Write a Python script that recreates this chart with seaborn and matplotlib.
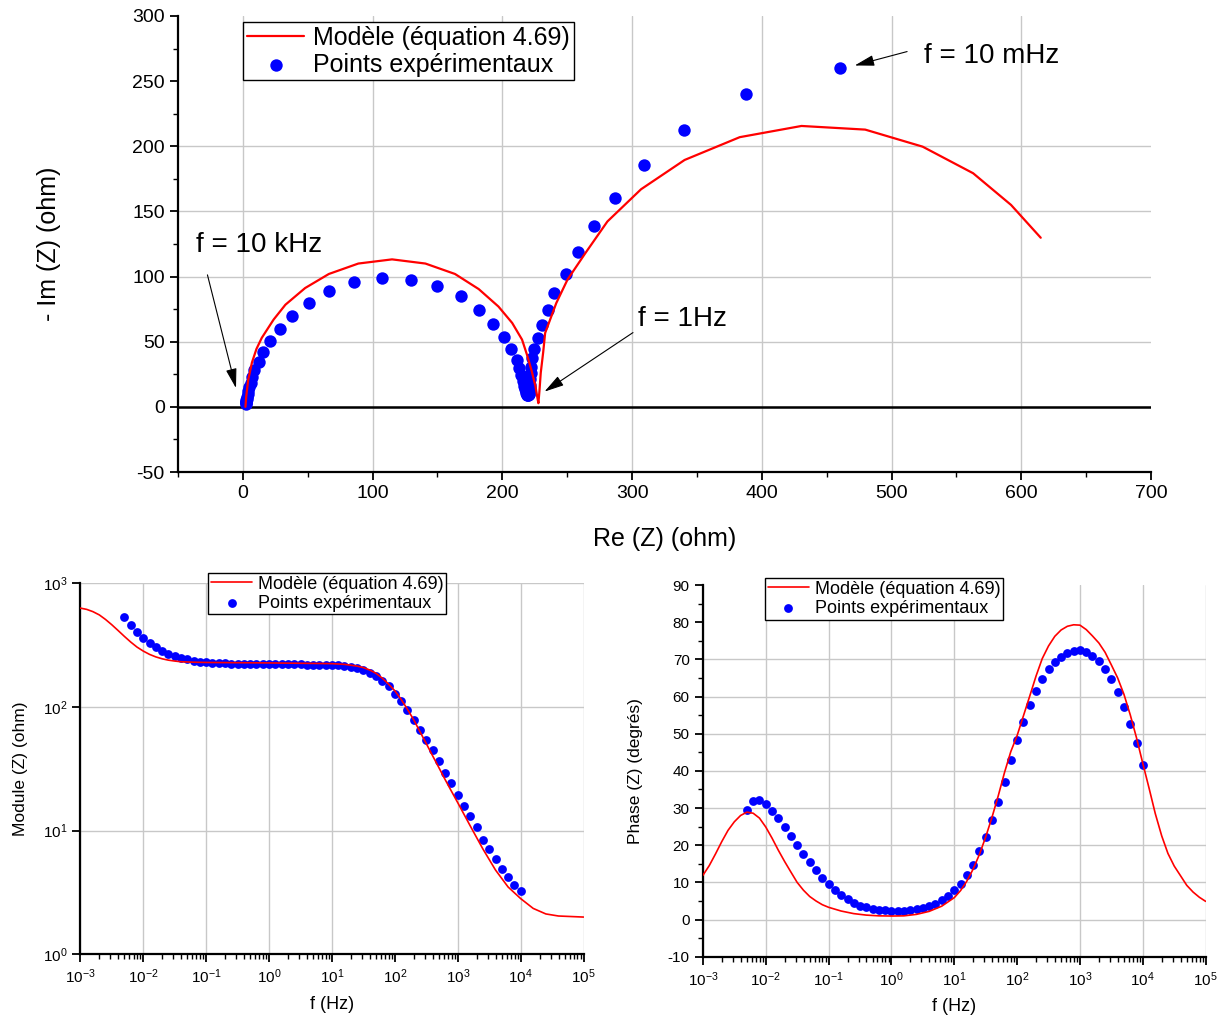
import matplotlib
matplotlib.use("Agg")
import matplotlib.pyplot as plt
import matplotlib.ticker as mticker
import seaborn as sns

sns.set_style("ticks")
plt.rcParams['font.family'] = ['Liberation Sans', 'DejaVu Sans']
plt.rcParams['mathtext.default'] = 'regular'
plt.rcParams['axes.unicode_minus'] = False
plt.rcParams['text.color'] = 'black'
plt.rcParams['axes.labelcolor'] = 'black'
plt.rcParams['xtick.color'] = 'black'
plt.rcParams['ytick.color'] = 'black'

LBL_MODEL = "Modèle (équation 4.69)"
LBL_EXP = "Points expérimentaux"

# ---- Nyquist : points experimentaux (f croissante, 5 mHz -> 10 kHz)
re_exp = [460.5, 387.6, 339.9, 308.9, 286.9, 270.4, 258.0, 248.8, 240.2, 235.0,
          230.6, 227.2, 224.4, 222.7, 222.2, 221.9, 221.7, 221.5, 221.3, 221.0,
          220.8, 220.5, 220.2, 219.9, 219.6, 219.3, 219.0, 218.6, 218.1, 217.5,
          216.8, 215.8, 214.5, 213.0, 211.0, 207.0, 201.0, 193.0, 181.8, 167.8,
          149.8, 129.8, 107.0, 85.7, 66.6, 50.8, 38.0, 28.3, 21.3, 15.5,
          12.2, 8.5, 7.4, 5.9, 4.9, 4.3, 3.7, 3.3, 3.05, 2.8,
          2.7, 2.6, 2.5, 2.4]
im_exp = [260.0, 240.4, 212.5, 185.7, 160.4, 138.7, 119.0, 102.2, 87.4, 74.1,
          63.1, 52.9, 44.4, 37.3, 30.8, 25.7, 21.3, 17.0, 14.3, 12.7,
          11.2, 10.0, 9.6, 9.2, 8.8, 8.8, 9.6, 10.7, 11.8, 14.0,
          15.9, 19.6, 24.2, 29.9, 36.3, 44.7, 53.4, 63.9, 74.6, 84.8,
          92.7, 97.6, 99.1, 95.5, 88.6, 80.0, 69.5, 59.5, 50.3, 42.0,
          34.5, 28.6, 23.1, 18.6, 15.1, 12.4, 9.9, 7.8, 6.4, 5.1,
          4.1, 3.4, 2.7, 2.2]

# ---- Nyquist : modele (de la basse frequence vers la haute frequence)
re_mod = [615.0, 592.1, 562.9, 524.0, 479.7, 430.6, 383.0, 340.5, 306.9, 281.0,
          264.0, 250.2, 241.6, 233.0, 231.5, 229.6, 228.6, 227.8, 227.2, 225.5,
          222.5, 219.0, 215.2, 207.6, 197.0, 181.8, 163.5, 140.7, 115.0, 89.0,
          66.3, 48.0, 32.8, 23.7, 14.6, 10.5, 7.0, 4.1, 2.6, 2.0]
im_mod = [129.8, 155.0, 179.3, 199.7, 212.8, 215.6, 207.0, 189.5, 167.0, 142.3,
          118.0, 97.6, 79.7, 56.7, 42.0, 26.0, 12.0, 2.8, 6.0, 16.0,
          28.0, 40.0, 51.6, 64.4, 77.0, 90.4, 102.0, 110.0, 113.2, 110.0,
          102.0, 91.2, 78.4, 67.0, 53.0, 44.5, 34.0, 20.7, 8.0, 0.0]

# ---- Bode : frequences des points experimentaux (Hz)
f_exp = [5.01e-3, 6.31e-3, 7.94e-3,
         1.00e-2, 1.26e-2, 1.58e-2, 2.00e-2, 2.51e-2, 3.16e-2, 3.98e-2, 5.01e-2, 6.31e-2, 7.94e-2,
         1.00e-1, 1.26e-1, 1.58e-1, 2.00e-1, 2.51e-1, 3.16e-1, 3.98e-1, 5.01e-1, 6.31e-1, 7.94e-1,
         1.00e0, 1.26e0, 1.58e0, 2.00e0, 2.51e0, 3.16e0, 3.98e0, 5.01e0, 6.31e0, 7.94e0,
         1.00e1, 1.26e1, 1.58e1, 2.00e1, 2.51e1, 3.16e1, 3.98e1, 5.01e1, 6.31e1, 7.94e1,
         1.00e2, 1.26e2, 1.58e2, 2.00e2, 2.51e2, 3.16e2, 3.98e2, 5.01e2, 6.31e2, 7.94e2,
         1.00e3, 1.26e3, 1.58e3, 2.00e3, 2.51e3, 3.16e3, 3.98e3, 5.01e3, 6.31e3, 7.94e3,
         1.00e4]
mod_exp = [533, 457, 402,
           361, 329, 304, 285, 270, 257, 249, 242, 236, 232,
           229, 227, 226, 225, 224, 224, 223, 223, 222, 222,
           222, 222, 222, 221, 221, 221, 220, 220, 219, 219,
           218, 217, 215, 212, 207, 200, 189, 177, 162, 147,
           128, 111, 94.0, 79.0, 65.6, 54.5, 44.7, 36.4, 29.4, 24.3,
           19.5, 15.9, 13.1, 10.6, 8.45, 7.11, 5.86, 4.93, 4.22, 3.66,
           3.25]
phase_exp = [29.6, 31.8, 32.1,
             31.2, 29.3, 27.2, 24.9, 22.4, 20.0, 17.7, 15.4, 13.2, 11.3,
             9.5, 7.9, 6.6, 5.5, 4.4, 3.7, 3.3, 2.9, 2.6, 2.5,
             2.4, 2.3, 2.3, 2.5, 2.8, 3.1, 3.7, 4.2, 5.2, 6.4,
             7.9, 9.7, 12.1, 14.7, 18.4, 22.2, 26.7, 31.7, 37.1, 42.8,
             48.3, 53.1, 57.6, 61.4, 64.7, 67.3, 69.2, 70.7, 71.8, 72.3,
             72.4, 72.0, 70.8, 69.5, 67.3, 64.6, 61.2, 57.2, 52.6, 47.4,
             41.7]

# ---- Bode : modele, module
f_mod_m = [1.00e-3, 1.26e-3, 1.58e-3, 2.00e-3, 2.51e-3, 3.16e-3, 3.98e-3, 5.01e-3, 6.31e-3, 7.94e-3,
           1.00e-2, 1.26e-2, 1.58e-2, 2.00e-2, 2.51e-2, 3.16e-2, 3.98e-2, 6.31e-2,
           1.00e-1, 1.00e0, 1.00e1, 1.58e1, 2.51e1, 3.16e1, 3.98e1, 5.01e1, 6.31e1, 7.94e1,
           1.00e2, 1.26e2, 1.58e2, 2.00e2, 2.51e2, 3.16e2, 3.98e2, 5.01e2, 6.31e2, 7.94e2,
           1.00e3, 1.58e3, 2.51e3, 3.98e3, 6.31e3, 1.00e4, 1.58e4, 2.51e4, 3.98e4, 1.00e5]
mod_mod = [630, 615, 590, 555, 510, 462, 415, 372, 335, 305,
           283, 266, 254, 245, 239, 235, 232, 230,
           229, 227, 224, 221, 214, 208, 199, 187, 171, 153,
           135, 115, 96, 78.5, 63, 50.5, 40.3, 32.3, 25.8, 20.8,
           16.8, 10.9, 7.1, 4.8, 3.5, 2.82, 2.35, 2.12, 2.04, 2.0]

# ---- Bode : modele, phase
f_mod_p = [1.00e-3, 1.26e-3, 1.58e-3, 2.00e-3, 2.51e-3, 3.16e-3, 3.98e-3, 5.01e-3, 6.31e-3, 7.94e-3,
           1.00e-2, 1.26e-2, 1.58e-2, 2.00e-2, 2.51e-2, 3.16e-2, 3.98e-2, 5.01e-2, 6.31e-2, 7.94e-2,
           1.00e-1, 1.58e-1, 2.51e-1, 3.98e-1, 6.31e-1, 1.00e0, 1.58e0, 2.51e0, 3.98e0, 6.31e0,
           1.00e1, 1.26e1, 1.58e1, 2.00e1, 2.51e1, 3.16e1, 3.98e1, 5.01e1, 6.31e1, 7.94e1,
           1.00e2, 1.26e2, 1.58e2, 2.00e2, 2.51e2, 3.16e2, 3.98e2, 5.01e2, 6.31e2, 7.94e2,
           1.00e3, 1.26e3, 1.58e3, 2.00e3, 2.51e3, 3.16e3, 3.98e3, 5.01e3, 6.31e3, 7.94e3,
           1.00e4, 1.26e4, 1.58e4, 2.00e4, 2.51e4, 3.16e4, 3.98e4, 5.01e4, 6.31e4, 7.94e4,
           1.00e5]
phase_mod = [11.9, 14.5, 17.6, 21.0, 24.0, 26.3, 28.0, 28.9, 28.6, 27.3,
             24.9, 21.9, 18.7, 15.6, 12.8, 10.0, 7.9, 6.2, 5.0, 4.0,
             3.3, 2.3, 1.6, 1.2, 1.0, 0.95, 1.0, 1.4, 2.2, 3.6,
             5.9, 7.8, 10.3, 13.6, 17.5, 22.2, 27.5, 33.3, 39.6, 45.2,
             49.5, 54.8, 60.0, 65.5, 70.2, 73.6, 76.2, 77.9, 78.9, 79.3,
             79.2, 78.0, 76.3, 74.4, 71.9, 68.5, 65.0, 60.6, 55.1, 48.9,
             42.0, 35.3, 28.5, 22.5, 17.8, 14.4, 11.8, 9.2, 7.4, 6.0,
             4.9]

GRID = '#c8c8c8'


def style_axes(ax, tick_size):
    for s in ['top', 'right']:
        ax.spines[s].set_visible(False)
    for s in ['left', 'bottom']:
        ax.spines[s].set_linewidth(1.6)
        ax.spines[s].set_color('black')
    ax.tick_params(which='both', bottom=True, left=True, top=False, right=False)
    ax.tick_params(which='major', direction='out', length=6, width=1.3,
                   labelsize=tick_size, color='black', labelcolor='black')
    ax.tick_params(which='minor', direction='out', length=3.5, width=1.0, color='black')
    ax.grid(True, which='major', color=GRID, lw=1.0)
    ax.set_axisbelow(True)


def hide_edge_grid(ax):
    x0, x1 = ax.get_xlim()
    y0, y1 = ax.get_ylim()
    for t in ax.xaxis.get_major_ticks():
        if abs(t.get_loc() - x0) < 1e-9 * max(1, abs(x0)) or abs(t.get_loc() - x1) < 1e-9 * max(1, abs(x1)):
            t.gridline.set_visible(False)
    for t in ax.yaxis.get_major_ticks():
        if abs(t.get_loc() - y0) < 1e-9 * max(1, abs(y0)) or abs(t.get_loc() - y1) < 1e-9 * max(1, abs(y1)):
            t.gridline.set_visible(False)


def add_legend(ax, anchor, size, pad):
    h, l = ax.get_legend_handles_labels()
    leg = ax.legend(h, l, loc='upper left', bbox_to_anchor=anchor, borderaxespad=0,
                    fontsize=size, frameon=True, fancybox=False, edgecolor='black',
                    framealpha=1, handlelength=2.3, handletextpad=pad,
                    borderpad=0.15, labelspacing=0.12)
    leg.get_frame().set_linewidth(1.0)


fig = plt.figure(figsize=(12.25, 10.19), dpi=100)

# ================= Nyquist =================
ax1 = fig.add_axes([0.1453, 0.5368, 0.7943, 0.4475])
ax1.axhline(0, color='black', lw=1.8, zorder=1.5)
sns.lineplot(x=re_mod, y=im_mod, sort=False, estimator=None, color='red', lw=1.6,
             ax=ax1, label=LBL_MODEL, zorder=4)
sns.scatterplot(x=re_exp, y=im_exp, color='blue', s=80, linewidth=0, ax=ax1,
                label=LBL_EXP, zorder=3)
ax1.set_xlim(-50, 700)
ax1.set_ylim(-50, 300)
ax1.xaxis.set_major_locator(mticker.MultipleLocator(100))
ax1.xaxis.set_minor_locator(mticker.MultipleLocator(50))
ax1.yaxis.set_major_locator(mticker.MultipleLocator(50))
ax1.yaxis.set_minor_locator(mticker.MultipleLocator(25))
style_axes(ax1, 14)
ax1.set_xlabel("Re (Z) (ohm)", fontsize=18)
ax1.set_ylabel("- Im (Z) (ohm)", fontsize=18)
ax1.xaxis.set_label_coords(0.5, -0.12)
ax1.yaxis.set_label_coords(-0.12, 0.5)
add_legend(ax1, (0.067, 0.987), 18, 0.35)

arrow = dict(arrowstyle='-|>,head_length=0.8,head_width=0.22', color='black',
             lw=0.8, mutation_scale=15, shrinkA=0, shrinkB=0)
ax1.text(-36.2, 124.3, "f = 10 kHz", fontsize=20, ha='left', va='center')
ax1.annotate('', xy=(-5.3, 14.4), xytext=(-27.3, 101.3), arrowprops=arrow)
ax1.text(304.9, 67.5, "f = 1Hz", fontsize=20, ha='left', va='center')
ax1.annotate('', xy=(232.5, 11.7), xytext=(300.7, 57.0), arrowprops=arrow)
ax1.text(525.1, 269.4, "f = 10 mHz", fontsize=20, ha='left', va='center')
ax1.annotate('', xy=(471.6, 262.0), xytext=(512.0, 272.7), arrowprops=arrow)
hide_edge_grid(ax1)

# ================= Bode module =================
ax2 = fig.add_axes([0.0656, 0.0635, 0.4108, 0.3641])
sns.lineplot(x=f_mod_m, y=mod_mod, estimator=None, color='red', lw=1.2,
             ax=ax2, label=LBL_MODEL, zorder=4)
sns.scatterplot(x=f_exp, y=mod_exp, color='blue', s=40, linewidth=0, ax=ax2,
                label=LBL_EXP, zorder=3)
ax2.set_xscale('log')
ax2.set_yscale('log')
ax2.set_xlim(1e-3, 1e5)
ax2.set_ylim(1, 1e3)
ax2.xaxis.set_major_locator(mticker.LogLocator(base=10, numticks=20))
ax2.xaxis.set_minor_locator(mticker.LogLocator(base=10, subs=range(2, 10), numticks=200))
ax2.xaxis.set_minor_formatter(mticker.NullFormatter())
ax2.yaxis.set_major_locator(mticker.LogLocator(base=10, numticks=10))
ax2.yaxis.set_minor_locator(mticker.NullLocator())
style_axes(ax2, 11)
ax2.set_xlabel("f (Hz)", fontsize=13)
ax2.set_ylabel("Module (Z) (ohm)", fontsize=12.5)
ax2.xaxis.set_label_coords(0.5, -0.112)
ax2.yaxis.set_label_coords(-0.105, 0.5)
add_legend(ax2, (0.254, 1.028), 13, 0.3)
hide_edge_grid(ax2)

# ================= Bode phase =================
ax3 = fig.add_axes([0.5738, 0.0611, 0.4104, 0.3648])
sns.lineplot(x=f_mod_p, y=phase_mod, estimator=None, color='red', lw=1.2,
             ax=ax3, label=LBL_MODEL, zorder=4)
sns.scatterplot(x=f_exp, y=phase_exp, color='blue', s=40, linewidth=0, ax=ax3,
                label=LBL_EXP, zorder=3)
ax3.set_xscale('log')
ax3.set_xlim(1e-3, 1e5)
ax3.set_ylim(-10, 90)
ax3.xaxis.set_major_locator(mticker.LogLocator(base=10, numticks=20))
ax3.xaxis.set_minor_locator(mticker.LogLocator(base=10, subs=range(2, 10), numticks=200))
ax3.xaxis.set_minor_formatter(mticker.NullFormatter())
ax3.yaxis.set_major_locator(mticker.MultipleLocator(10))
ax3.yaxis.set_minor_locator(mticker.MultipleLocator(5))
style_axes(ax3, 11)
ax3.set_xlabel("f (Hz)", fontsize=13)
ax3.set_ylabel("Phase (Z) (degrés)", fontsize=12.5)
ax3.xaxis.set_label_coords(0.5, -0.110)
ax3.yaxis.set_label_coords(-0.1185, 0.5)
add_legend(ax3, (0.1235, 1.019), 13, 0.3)
hide_edge_grid(ax3)

fig.savefig("out.png", dpi=100)
